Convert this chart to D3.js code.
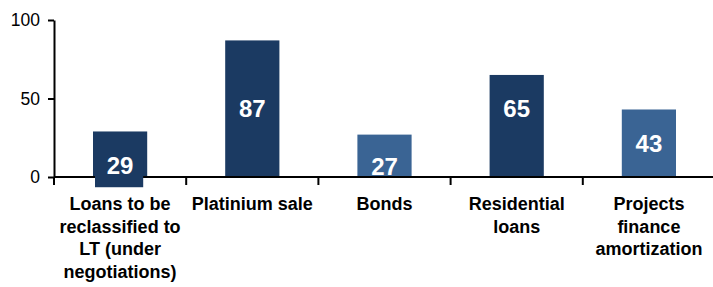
<!DOCTYPE html>
<html>
<head>
<meta charset="utf-8">
<script src="https://cdn.jsdelivr.net/npm/d3@7"></script>
<style>
    body { margin: 0; background: #fff; }
    svg { display: block; font-family: "Liberation Sans", Arial, sans-serif; }
</style>
</head>
<body>
<div id="chart"></div>
<script>
// Données
const categories = [
    ['Loans to be', 'reclassified to', 'LT (under', 'negotiations)'],
    ['Platinium sale'],
    ['Bonds'],
    ['Residential', 'loans'],
    ['Projects', 'finance', 'amortization']
];
const values = [29, 87, 27, 65, 43];
const labelAt = [7.5, 44, 6.5, 44, 21.7];   // où l'étiquette est posée (en unités)
const labelBox = [true, false, false, false, false];
const barColors = ['#1b3a62', '#1b3a62', '#3a6494', '#1b3a62', '#3a6494'];
const yTicks = [0, 50, 100];

const width = 713;
const height = 287;

const svg = d3.select('#chart')
    .append('svg')
    .attr('width', width)
    .attr('height', height);

// Échelles
const xScale = d3.scaleBand()
    .domain(d3.range(values.length))
    .range([54, 715])
    .paddingInner(0.59)
    .paddingOuter(0.295);

const yScale = d3.scaleLinear()
    .domain([0, 100])
    .range([177, 20]);

// Barres
svg.selectAll('.bar')
    .data(values)
    .enter()
    .append('rect')
    .attr('class', 'bar')
    .attr('x', (d, i) => xScale(i))
    .attr('y', d => yScale(d))
    .attr('width', xScale.bandwidth())
    .attr('height', d => yScale(0) - yScale(d))
    .attr('fill', (d, i) => barColors[i]);

// Axe Y
const yAxis = d3.axisLeft(yScale)
    .tickValues(yTicks)
    .tickSize(6)
    .tickSizeOuter(0)
    .tickPadding(8);

const gy = svg.append('g')
    .attr('transform', 'translate(54,0)')
    .call(yAxis);
gy.select('.domain').attr('stroke', '#000').attr('stroke-width', 2);
gy.selectAll('.tick line').attr('stroke', '#000').attr('stroke-width', 2);
gy.selectAll('.tick text')
    .attr('fill', '#000')
    .style('font-size', '17.5px');

// Axe X : traits entre les catégories
const bounds = d3.range(values.length + 1).map(i => 54 + i * xScale.step());
const gx = svg.append('g');
gx.append('line')
    .attr('x1', 54).attr('x2', 715)
    .attr('y1', yScale(0)).attr('y2', yScale(0))
    .attr('stroke', '#000').attr('stroke-width', 2);
gx.selectAll('.xtick')
    .data(bounds)
    .enter()
    .append('line')
    .attr('x1', d => d).attr('x2', d => d)
    .attr('y1', yScale(0)).attr('y2', yScale(0) + 8)
    .attr('stroke', '#000').attr('stroke-width', 2);

// Libellés des catégories
const labels = svg.selectAll('.cat')
    .data(categories)
    .enter()
    .append('text')
    .attr('class', 'cat')
    .attr('x', (d, i) => xScale(i) + xScale.bandwidth() / 2)
    .attr('y', yScale(0) + 33)
    .attr('text-anchor', 'middle')
    .style('font-size', '18px')
    .style('font-weight', 'bold')
    .attr('fill', '#000');

labels.each(function(lines, i) {
    const x = xScale(i) + xScale.bandwidth() / 2;
    d3.select(this).selectAll('tspan')
        .data(lines)
        .enter()
        .append('tspan')
        .attr('x', x)
        .attr('dy', (l, j) => j === 0 ? 0 : 22.5)
        .text(l => l);
});

// Étiquettes de valeur
const vl = svg.append('g');
values.forEach((d, i) => {
    if (!labelBox[i]) return;
    vl.append('rect')
        .attr('x', xScale(i) + 2)
        .attr('y', yScale(labelAt[i]) - 8)
        .attr('width', xScale.bandwidth() - 6)
        .attr('height', 30)
        .attr('fill', barColors[i]);
});

vl.selectAll('.vlabel')
    .data(values)
    .enter()
    .append('text')
    .attr('class', 'vlabel')
    .attr('x', (d, i) => xScale(i) + xScale.bandwidth() / 2)
    .attr('y', (d, i) => yScale(labelAt[i]))
    .attr('dy', '0.36em')
    .attr('text-anchor', 'middle')
    .style('font-size', '24px')
    .style('font-weight', 'bold')
    .attr('fill', '#fff')
    .text(d => d);
</script>
</body>
</html>
